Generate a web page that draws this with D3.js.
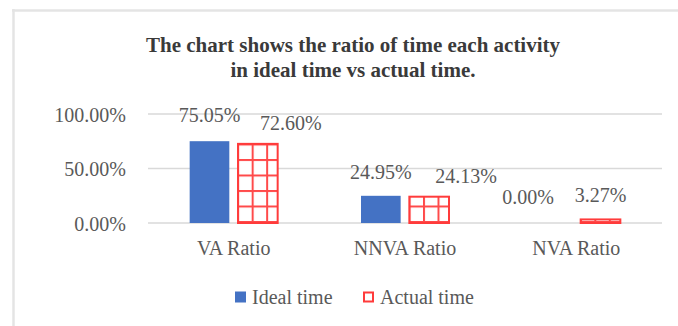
<!DOCTYPE html>
<html>
<head>
<meta charset="utf-8">
<script src="https://cdn.jsdelivr.net/npm/d3@7"></script>
<style>
  html, body { margin: 0; padding: 0; background: #fff; }
  svg { display: block; }
  svg text { font-family: "Liberation Serif", "Times New Roman", serif !important; }
</style>
</head>
<body>
<svg id="chart" width="678" height="326"></svg>
<script>
// Data
const categories = ["VA Ratio", "NNVA Ratio", "NVA Ratio"];
const seriesNames = ["Ideal time", "Actual time"];
const idealTime = [0.7505, 0.2495, 0.0000];
const actualTime = [0.7260, 0.2413, 0.0327];
const yTicks = [0, 0.5, 1.0];
const titleLines = ["The chart shows the ratio of time each activity", "in ideal time vs actual time."];

// Hand-placed label offsets [dx, dy] per category, per series
const labelNudge = [
  [[0, -2], [33, 3]],
  [[0, 0], [37, 3]],
  [[-24, -2], [0, 0]]
];

const FONT = "Liberation Serif, Times New Roman, serif";
const svg = d3.select("#chart");
const W = 678, H = 326;
const plot = { left: 148, right: 662, top: 114, bottom: 223 };

const blue = "#4472C4";
const red = "#FF3B3B";
const textGray = "#595959";

// Frame
svg.append("line").attr("x1", 12).attr("x2", W).attr("y1", 10.5).attr("y2", 10.5)
  .attr("stroke", "#e4e4e4").attr("stroke-width", 2.5);
svg.append("line").attr("x1", 13.5).attr("x2", 13.5).attr("y1", 9).attr("y2", H)
  .attr("stroke", "#e4e4e4").attr("stroke-width", 2.5);

// Grid pattern for actual-time bars
const defs = svg.append("defs");
const pat = defs.append("pattern").attr("id", "redGrid")
  .attr("patternUnits", "userSpaceOnUse").attr("width", 14.5).attr("height", 15.5)
  .attr("x", 4).attr("y", 4);
pat.append("rect").attr("width", 14.5).attr("height", 15.5).attr("fill", "#fff");
pat.append("rect").attr("x", 0).attr("y", 0).attr("width", 2).attr("height", 15.5).attr("fill", "#ff4a4a");
pat.append("rect").attr("x", 0).attr("y", 0).attr("width", 14.5).attr("height", 2).attr("fill", "#ff4a4a");

// Scales
const x0 = d3.scaleBand().domain(categories).range([plot.left, plot.right]).paddingInner(0).paddingOuter(0);
const groupW = 88;
const x1 = d3.scaleBand().domain(seriesNames).range([0, groupW]).paddingInner(0.18).paddingOuter(0);
const y = d3.scaleLinear().domain([0, 1]).range([plot.bottom, plot.top]);

// Title
const title = svg.append("text").attr("text-anchor", "middle").attr("font-family", FONT)
  .attr("font-size", 21).attr("font-weight", "bold").attr("fill", "#3a3a3a");
titleLines.forEach((t, i) => {
  title.append("tspan").attr("x", 353).attr("y", 52 + i * 25).text(t);
});

// Gridlines
svg.append("g").selectAll("line").data(yTicks).join("line")
  .attr("x1", plot.left).attr("x2", plot.right)
  .attr("y1", d => y(d)).attr("y2", d => y(d))
  .attr("stroke", "#d9d9d9").attr("stroke-width", 1.5);

// Y axis labels
const yAxis = d3.axisLeft(y).tickValues(yTicks).tickSize(0).tickPadding(0)
  .tickFormat(d => d3.format(".2%")(d));
const yg = svg.append("g").attr("transform", `translate(126,0)`).call(yAxis)
  .attr("font-family", FONT);
yg.select(".domain").remove();
yg.selectAll("text").attr("font-size", 20).attr("fill", textGray)
  .attr("font-family", FONT).attr("dy", "0.35em");

// Bars
const rows = categories.map((c, i) => ({ cat: c, i, vals: [idealTime[i], actualTime[i]] }));
const groups = svg.append("g").selectAll("g").data(rows).join("g")
  .attr("transform", d => `translate(${x0(d.cat) + x0.bandwidth() / 2 - groupW / 2},0)`);

groups.each(function (row) {
  const g = d3.select(this);
  seriesNames.forEach((s, j) => {
    const v = row.vals[j];
    const bx = x1(s), bw = x1.bandwidth();
    if (j === 0) {
      g.append("rect").attr("x", bx).attr("y", y(v)).attr("width", bw)
        .attr("height", y(0) - y(v)).attr("fill", blue);
    } else if (v > 0) {
      g.append("rect").attr("x", bx).attr("y", y(v)).attr("width", bw)
        .attr("height", y(0) - y(v)).attr("fill", "url(#redGrid)")
        .attr("stroke", red).attr("stroke-width", 2);
    }
    const nd = labelNudge[row.i][j];
    g.append("text").attr("text-anchor", "middle").attr("font-family", FONT)
      .attr("x", bx + bw / 2 + nd[0]).attr("y", y(v) - 24 + nd[1]).attr("dy", "0.35em")
      .attr("font-size", 20).attr("fill", textGray)
      .text(d3.format(".2%")(v));
  });
});

// X axis category labels
const xAxis = d3.axisBottom(x0).tickSize(0).tickPadding(0);
const xg = svg.append("g").attr("transform", `translate(0,248)`).call(xAxis)
  .attr("font-family", FONT);
xg.select(".domain").remove();
xg.selectAll("text").attr("font-size", 20).attr("fill", textGray)
  .attr("font-family", FONT).attr("dy", "0.35em");

// Legend
const legend = svg.append("g").attr("transform", "translate(0,297)").attr("font-family", FONT);
legend.append("rect").attr("x", 235).attr("y", -5.5).attr("width", 11).attr("height", 11).attr("fill", blue);
legend.append("text").attr("x", 252).attr("y", 0).attr("dy", "0.35em").attr("font-family", FONT)
  .attr("font-size", 20).attr("fill", textGray).text(seriesNames[0]);
legend.append("rect").attr("x", 364).attr("y", -4.5).attr("width", 9).attr("height", 9)
  .attr("fill", "#fff").attr("stroke", red).attr("stroke-width", 2);
legend.append("text").attr("x", 380).attr("y", 0).attr("dy", "0.35em").attr("font-family", FONT)
  .attr("font-size", 20).attr("fill", textGray).text(seriesNames[1]);
</script>
</body>
</html>
